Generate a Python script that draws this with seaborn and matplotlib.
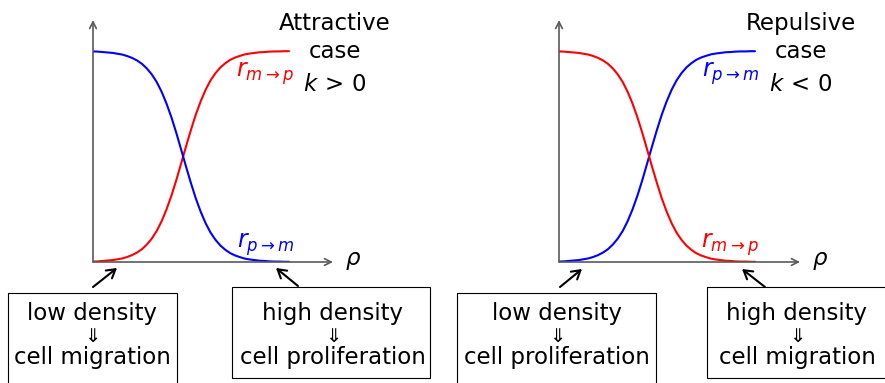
import matplotlib
matplotlib.use("Agg")
import matplotlib.pyplot as plt
import seaborn as sns
from matplotlib.patches import Rectangle

sns.set_theme(style="white")
plt.rcParams['font.family'] = ['DejaVu Sans']
plt.rcParams['mathtext.fontset'] = 'dejavusans'
plt.rcParams['text.color'] = 'black'

# ---- data ----
rho = [0.000, 0.025, 0.050, 0.075, 0.100, 0.125, 0.150, 0.175, 0.200, 0.225,
       0.250, 0.275, 0.300, 0.325, 0.350, 0.375, 0.400, 0.425, 0.450, 0.475,
       0.500, 0.525, 0.550, 0.575, 0.600, 0.625, 0.650, 0.675, 0.700, 0.725,
       0.750, 0.775, 0.800, 0.825, 0.850, 0.875, 0.900, 0.925, 0.950, 0.975, 1.000]
falling = [0.998, 0.997, 0.995, 0.993, 0.991, 0.987, 0.983, 0.976, 0.967, 0.955,
           0.939, 0.917, 0.889, 0.853, 0.807, 0.751, 0.686, 0.612, 0.532, 0.451,
           0.373, 0.300, 0.237, 0.183, 0.139, 0.105, 0.078, 0.058, 0.042, 0.031,
           0.023, 0.016, 0.012, 0.009, 0.006, 0.005, 0.003, 0.002, 0.002, 0.001, 0.001]
rising = [0.002, 0.003, 0.005, 0.007, 0.009, 0.013, 0.017, 0.024, 0.033, 0.045,
          0.061, 0.083, 0.111, 0.147, 0.193, 0.249, 0.314, 0.388, 0.468, 0.549,
          0.627, 0.700, 0.763, 0.817, 0.861, 0.895, 0.922, 0.942, 0.958, 0.969,
          0.977, 0.984, 0.988, 0.991, 0.994, 0.995, 0.997, 0.998, 0.998, 0.999, 0.999]

panel_titles = [["Attractive", "case", r"$k\,>\,0$"], ["Repulsive", "case", r"$k\,<\,0$"]]
top_labels = [r"$r_{m\to p}$", r"$r_{p\to m}$"]
bottom_labels = [r"$r_{p\to m}$", r"$r_{m\to p}$"]
low_boxes = [["low density", "cell migration"], ["low density", "cell proliferation"]]
high_boxes = [["high density", "cell proliferation"], ["high density", "cell migration"]]

W, H = 885, 383
fig = plt.figure(figsize=(W / 100, H / 100), dpi=100)

# overlay in pixel coordinates for annotations
ov = fig.add_axes([0, 0, 1, 1])
ov.set_xlim(0, W)
ov.set_ylim(H, 0)
ov.axis("off")

FS = 16.5
axis_gray = "#5a5a5a"

panels = [
    dict(x0=93, x_end=289, x_arrow=333, rising_color="red", falling_color="blue",
         tx=335, top_c="red", bot_c="blue", lab_r=294,
         low=(8, 177), high=(232, 430), low_cx=92, high_cx=333,
         arr1=((93, 287), (117, 268)), arr2=((298, 286), (276, 268))),
    dict(x0=559, x_end=755, x_arrow=800, rising_color="blue", falling_color="red",
         tx=801, top_c="blue", bot_c="red", lab_r=759,
         low=(457, 656), high=(707, 895), low_cx=557, high_cx=797,
         arr1=((560, 287), (582, 269)), arr2=((765, 287), (742, 269))),
]

y0, y1, y_arrow = 262, 51, 20
for i, p in enumerate(panels):
    cw = p["x_end"] - p["x0"]
    ch = y0 - y1
    axw = p["x_arrow"] - p["x0"]
    axh = y0 - y_arrow
    ax = fig.add_axes([p["x0"] / W, (H - y0) / H, axw / W, axh / H])
    ax.set_xlim(0, axw / cw)
    ax.set_ylim(0, axh / ch)
    ax.axis("off")
    ax.patch.set_alpha(0)
    sns.lineplot(x=rho, y=rising, ax=ax, color=p["rising_color"], lw=1.5)
    sns.lineplot(x=rho, y=falling, ax=ax, color=p["falling_color"], lw=1.5)
    # axes with arrows
    ax.annotate("", xy=(axw / cw, 0), xytext=(0, 0),
                arrowprops=dict(arrowstyle="->", color=axis_gray, lw=1.2,
                                shrinkA=0, shrinkB=0), annotation_clip=False)
    ax.annotate("", xy=(0, axh / ch), xytext=(0, 0),
                arrowprops=dict(arrowstyle="->", color=axis_gray, lw=1.2,
                                shrinkA=0, shrinkB=0), annotation_clip=False)

    # titles
    for txt, yb in zip(panel_titles[i], [30, 58, 91]):
        ov.text(p["tx"], yb, txt, ha="center", va="baseline", fontsize=FS, color="black")
    ov.text(p["lab_r"], 77, top_labels[i], ha="right", va="baseline", fontsize=17, color=p["top_c"])
    ov.text(p["lab_r"], 248, bottom_labels[i], ha="right", va="baseline", fontsize=17, color=p["bot_c"])
    ov.text(p["x_arrow"] + 12, 265, r"$\rho$", ha="left", va="baseline", fontsize=FS, color="black")

    # boxes
    for (xa, xb), ytop, ybot, cx, lines in [(p["low"], 293, 392, p["low_cx"], low_boxes[i]),
                                             (p["high"], 287, 378, p["high_cx"], high_boxes[i])]:
        ov.add_patch(Rectangle((xa, ytop), xb - xa, ybot - ytop, fill=False,
                               edgecolor="black", lw=0.8))
        ov.text(cx, 320, lines[0], ha="center", va="baseline", fontsize=FS, color="black")
        ov.text(cx, 336, "\u21d3", ha="center", va="center", fontsize=14, color="black")
        ov.text(cx, 364, lines[1], ha="center", va="baseline", fontsize=FS, color="black")

    for (s, e) in [p["arr1"], p["arr2"]]:
        ov.annotate("", xy=e, xytext=s,
                    arrowprops=dict(arrowstyle="->,head_length=0.5,head_width=0.3",
                                    color="black", lw=1.5, shrinkA=0, shrinkB=0))

fig.savefig("out.png", dpi=100)
